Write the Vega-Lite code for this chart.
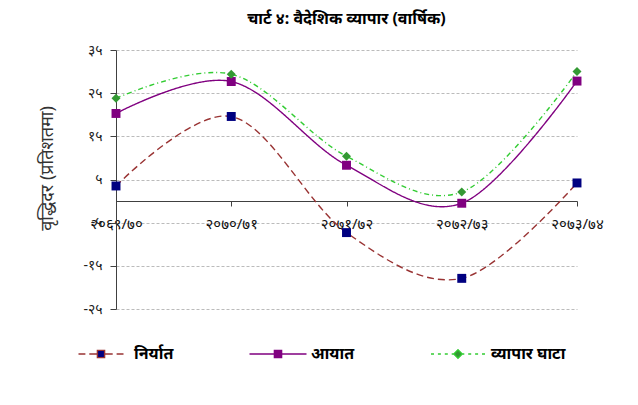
{
  "$schema": "https://vega.github.io/schema/vega-lite/v6.json",
  "width": 461,
  "height": 259,
  "autosize": {"type": "none"},
  "padding": {"left": 116, "top": 50, "right": 61, "bottom": 96},
  "background": "white",
  "config": {"font": "Noto Sans", "view": {"stroke": null}},
  "title": {"text": "चार्ट ४: वैदेशिक व्यापार (वार्षिक)", "fontSize": 16, "fontWeight": "bold", "color": "black", "anchor": "middle", "offset": 16},
  "data": {"values": [
    {"series": "निर्यात", "year": "२०६९/७०", "value": 3.5},
    {"series": "निर्यात", "year": "२०७०/७१", "value": 19.6},
    {"series": "निर्यात", "year": "२०७१/७२", "value": -7.3},
    {"series": "निर्यात", "year": "२०७२/७३", "value": -17.9},
    {"series": "निर्यात", "year": "२०७३/७४", "value": 4.2},
    {"series": "आयात", "year": "२०६९/७०", "value": 20.3},
    {"series": "आयात", "year": "२०७०/७१", "value": 27.7},
    {"series": "आयात", "year": "२०७१/७२", "value": 8.3},
    {"series": "आयात", "year": "२०७२/७३", "value": -0.5},
    {"series": "आयात", "year": "२०७३/७४", "value": 27.8},
    {"series": "व्यापार घाटा", "year": "२०६९/७०", "value": 23.8},
    {"series": "व्यापार घाटा", "year": "२०७०/७१", "value": 29.4},
    {"series": "व्यापार घाटा", "year": "२०७१/७२", "value": 10.4},
    {"series": "व्यापार घाटा", "year": "२०७२/७३", "value": 2.1},
    {"series": "व्यापार घाटा", "year": "२०७३/७४", "value": 30.0}
  ]},
  "encoding": {
    "x": {"field": "year", "type": "ordinal", "sort": null, "scale": {"type": "point", "padding": 0},
      "axis": {"title": null, "labelAngle": 0, "offset": -108, "domainColor": "#404040", "tickColor": "#404040", "tickSize": 5, "labelPadding": 10, "labelFontSize": 15, "labelColor": "#111111", "grid": false}},
    "y": {"field": "value", "type": "quantitative", "scale": {"domain": [-25, 35], "nice": false, "zero": false},
      "axis": {"values": [35, 25, 15, 5, -5, -15, -25],
        "labelExpr": "datum.value==35?'३५':datum.value==25?'२५':datum.value==15?'१५':datum.value==5?'५':datum.value==-5?'-५':datum.value==-15?'-१५':'-२५'",
        "title": "वृद्धिदर (प्रतिशतमा)", "titleFontSize": 18, "titleFontWeight": "normal", "titleColor": "#333333", "titlePadding": 26, "titleY": 118,
        "grid": true, "gridDash": [3, 2], "gridColor": "#BBBBBB", "domainColor": "#404040", "tickColor": "#404040", "tickSize": 6, "labelPadding": 8, "labelFontSize": 14, "labelColor": "#222222", "labelOverlap": false}}
  },
  "layer": [
    {
      "mark": {"type": "line", "interpolate": "cardinal", "strokeWidth": 1.4},
      "encoding": {
        "stroke": {"field": "series", "type": "nominal", "scale": {"domain": ["निर्यात", "आयात", "व्यापार घाटा"], "range": ["#993333", "#800080", "#33CC33"]}, "legend": null},
        "strokeDash": {"field": "series", "type": "nominal", "scale": {"domain": ["निर्यात", "आयात", "व्यापार घाटा"], "range": [[7, 4], [1, 0], [5, 3, 1, 3]]}, "legend": null}
      }
    },
    {
      "mark": {"type": "point", "filled": true, "opacity": 1, "size": 80},
      "encoding": {
        "fill": {"field": "series", "type": "nominal", "scale": {"domain": ["निर्यात", "आयात", "व्यापार घाटा"], "range": ["#000080", "#800080", "#339933"]}, "legend": null},
        "shape": {"field": "series", "type": "nominal", "scale": {"domain": ["निर्यात", "आयात", "व्यापार घाटा"], "range": ["square", "square", "diamond"]}, "legend": null}
      }
    },
    {
      "transform": [{"filter": "false"}],
      "mark": {"type": "point", "strokeWidth": 1.4, "opacity": 1},
      "encoding": {
        "fill": {"field": "series", "type": "nominal", "scale": {"domain": ["निर्यात", "आयात", "व्यापार घाटा"], "range": ["#000080", "#800080", "#339933"]},
          "legend": {"title": null, "orient": "none", "legendX": -46, "legendY": 273, "direction": "horizontal", "symbolSize": 3600, "symbolStrokeWidth": 1.4, "symbolOpacity": 1, "labelFontSize": 16, "labelFontWeight": "bold", "labelColor": "black", "labelOffset": 2, "columnPadding": 72}},
        "stroke": {"field": "series", "type": "nominal", "scale": {"domain": ["निर्यात", "आयात", "व्यापार घाटा"], "range": ["#993333", "#800080", "#33CC33"]},
          "legend": {"title": null, "orient": "none", "legendX": -46, "legendY": 273, "direction": "horizontal", "symbolSize": 3600, "symbolStrokeWidth": 1.4, "symbolOpacity": 1, "labelFontSize": 16, "labelFontWeight": "bold", "labelColor": "black", "labelOffset": 2, "columnPadding": 72}},
        "shape": {"field": "series", "type": "nominal",
          "scale": {"domain": ["निर्यात", "आयात", "व्यापार घाटा"], "range": [
            "M-0.75,0H-0.52M-0.39,0H-0.12M-0.12,-0.12H0.12V0.12H-0.12ZM0.12,0H0.39M0.52,0H0.75",
            "M-0.95,0H0.95M-0.12,-0.12H0.12V0.12H-0.12Z",
            "M-0.9,0H-0.8M-0.67,0H-0.57M-0.44,0H-0.34M-0.21,0H-0.13M0,-0.14L0.14,0L0,0.14L-0.14,0ZM0.13,0H0.21M0.34,0H0.44M0.57,0H0.67M0.8,0H0.9"
          ]},
          "legend": {"title": null, "orient": "none", "legendX": -46, "legendY": 273, "direction": "horizontal", "symbolSize": 3600, "symbolStrokeWidth": 1.4, "symbolOpacity": 1, "labelFontSize": 16, "labelFontWeight": "bold", "labelColor": "black", "labelOffset": 2, "columnPadding": 72}
        }
      }
    }
  ],
  "resolve": {"scale": {"shape": "independent", "fill": "independent", "stroke": "independent"}}
}
